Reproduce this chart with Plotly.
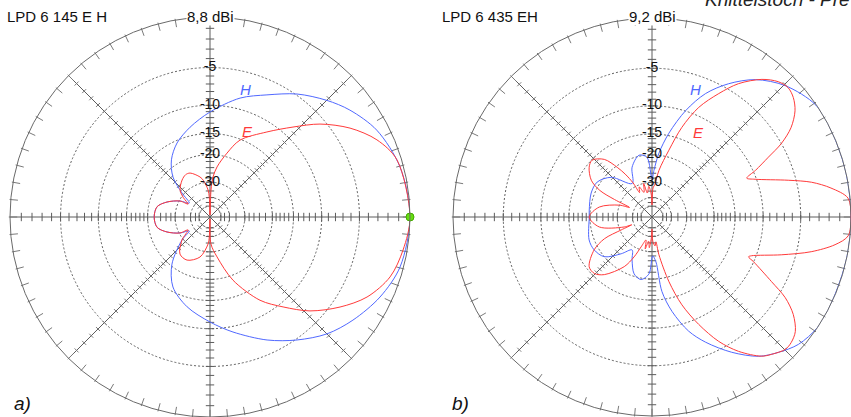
import numpy as np
import plotly.graph_objects as go

W, H = 851, 417

# ---------------- data: angle (deg, ccw from main-lobe axis) and level (dB rel. max)
H_A_DEG = [0, 14.7, 27.5, 37.4, 45, 54.7, 65, 75.8, 90, 102.5, 114, 124, 132.8, 139.4, 146,
           152, 160.8, 169, 180, 191, 199.2, 208, 214, 219.4, 231.1, 242.1, 255.7, 270,
           281.3, 294.9, 305.3, 315, 324.2, 334.8, 345.3, 360]
H_A_DB = [0, -0.3, -1.06, -2.19, -3.3, -4.86, -6.78, -8.39, -11.06, -13.33, -15.51, -18.27,
          -22.31, -29.0, -35.7, -30.4, -25.4, -22.5, -21.9, -22.5, -25.4, -30.4, -35.7, -29.3,
          -20.5, -15.9, -13.2, -11.06, -9.16, -6.67, -4.86, -3.27, -2.17, -1.07, -0.3, 0]

E_A_DEG = [0, 17, 24.8, 32.4, 40.2, 47.3, 56.2, 68.7, 75.1, 82, 85.7, 87.9, 90, 92, 94, 100,
           104, 114.4, 120, 127, 138, 144, 149.4, 152, 160.8, 169, 180, 191, 199.2, 208, 210.6,
           219.4, 231, 242, 256, 266, 268, 270, 272, 280, 290, 301, 309.1, 316.8, 325.3, 333,
           341.6, 350.3, 360]
E_A_DB = [0, -0.39, -1.44, -3.21, -5.64, -8.43, -11.5, -15.2, -19.0, -23.6, -27.6, -34.4, -80,
          -40, -34.4, -29, -27.1, -24.4, -24.2, -25.1, -27.5, -31, -35.4, -30.4, -25.4, -22.5,
          -21.9, -22.5, -25.4, -30.4, -35.4, -29.3, -24.6, -24.2, -27.1, -34.4, -40, -80, -34.4,
          -27.4, -18.7, -12.4, -9.37, -6.47, -4.03, -2.17, -0.9, -0.36, 0]

H_B_DEG = [0, 12.6, 24.5, 34.3, 44.6, 53, 60.1, 66.5, 72.4, 78.6, 83.8, 87.6, 90, 94.8, 101.8,
           111.8, 120.5, 135.7, 147.5, 158.5, 173.7, 180, 200, 209.6, 219.8, 230, 238.8, 245,
           252.5, 260, 267, 271, 275, 277.6, 282, 287.8, 293.2, 300.5, 307.4, 313, 319, 326.4,
           334.4, 348, 360]
H_B_DB = [0, 0, 0, -0.05, -1.06, -2.5, -4.43, -6.7, -9.9, -14.5, -19.4, -24.9, -28.5, -20.6,
          -19.7, -22.5, -28, -21.5, -19.2, -19.1, -19.7, -19.8, -18.7, -18.8, -20, -24.4, -28.2,
          -24.7, -20.7, -19.6, -21.5, -28, -25.5, -16.7, -12.4, -8.7, -6.5, -4.07, -2.17, -1.24,
          -0.43, 0, 0, 0, 0]

E_B_DEG = [0, 5.5, 9.2, 12.3, 15.1, 20.1, 22.3, 24.3, 27.2, 29.6, 32.7, 36.6, 40.2, 43.5, 47,
           51.4, 57, 61.6, 66.9, 71.6, 75.8, 81.5, 85, 88, 90, 92, 96, 101, 104, 108, 113, 117,
           119, 122, 125, 129.6, 136.5, 141.6, 148.8, 153, 155, 157, 160, 169.3, 180, 190.7,
           199.7, 201, 202.8, 204.6, 209.6, 218.4, 224.5, 230.4, 240.8, 245.8, 250, 255.4, 258,
           262, 265, 268, 270, 272, 276, 279, 280.4, 284.7, 288.8, 293.5, 298.2, 302.8, 308.2,
           311, 315.2, 318, 321.4, 325.4, 328.8, 331.6, 336.2, 337.6, 338.7, 343.7, 347.7,
           351.4, 354.5, 360]
E_B_DB = [0, -0.18, -1.6, -3.4, -5.9, -10.2, -11.4, -9.6, -7.2, -5.0, -3.2, -1.9, -1.25, -1.0,
          -1.25, -2.1, -3.85, -6.0, -8.8, -12.8, -18.2, -24.7, -31, -33, -48, -37, -32, -36, -30,
          -35, -31, -34, -28, -23.5, -20.4, -16.8, -15.1, -15.6, -17.7, -21, -27, -36, -30,
          -22.5, -19.8, -22.5, -32.7, -38, -30.6, -22.9, -18.8, -15.6, -15.5, -16.8, -21.5, -26,
          -31.5, -36.5, -31, -36, -32, -38, -48, -36, -33, -35.5, -28.2, -18.7, -13.1, -9.1,
          -5.9, -3.76, -2.0, -1.53, -0.99, -1.03, -1.4, -2.54, -4.2, -6.55, -10.0, -11.07,
          -10.7, -6.7, -3.43, -1.24, -0.17, 0]

RING_DB = [-5, -10, -15, -20, -30, -40, -50]
RING_LABEL_DB = [-5, -10, -15, -20, -30]
TICK_DB = list(range(-1, -21, -1)) + [-22, -24, -26, -28, -30, -35, -40, -45, -50]
SPOKES = [0, 45, 90, 135, 180, 225, 270, 315]

TITLES = ["LPD 6 145 E H", "LPD 6 435 EH"]
MAX_GAIN = ["8,8 dBi", "9,2 dBi"]
PANEL = ["a)", "b)"]

for a, b in ((H_A_DEG, H_A_DB), (E_A_DEG, E_A_DB), (H_B_DEG, H_B_DB), (E_B_DEG, E_B_DB)):
    assert len(a) == len(b), (len(a), len(b))


def arrl(db):
    """ARRL log scale: each 2 dB -> factor 0.89 in radius."""
    return 0.89 ** (-np.asarray(db, float) / 2.0)


BLUE = '#5068ff'
RED = '#ff3a3a'
AX = '#5c5c5c'
AX_LIGHT = '#7a7a7a'
FONT = 'Arial, Liberation Sans, sans-serif'

# panel geometry in pixels: centre x, centre y, radius
GEOM = [(210, 217, 200), (652, 217, 199)]

fig = go.Figure()


def add_panel(sub, hdeg, hdb, edeg, edb, rpx):
    # ticks along the spokes
    for spokes, size, col in (([0, 90, 180, 270], 6, AX), ([45, 135, 225, 315], 4, AX_LIGHT)):
        th, rr, ang = [], [], []
        for s in spokes:
            for d in TICK_DB:
                th.append(s)
                rr.append(float(arrl(d)))
                ang.append(-s)
        fig.add_trace(go.Scatterpolar(subplot=sub, theta=th, r=rr, mode='markers',
                                      marker=dict(symbol='line-ns', size=size, angle=ang,
                                                  color=col, line=dict(color=col, width=1)),
                                      hoverinfo='skip', showlegend=False))
    # ticks on outer circle, every 5 degrees
    th = list(range(0, 360, 5))
    fig.add_trace(go.Scatterpolar(subplot=sub, theta=th, r=[1 - 3.0 / rpx] * len(th),
                                  mode='markers',
                                  marker=dict(symbol='line-ew', size=6, angle=[-t for t in th],
                                              color=AX_LIGHT,
                                              line=dict(color=AX_LIGHT, width=1)),
                                  hoverinfo='skip', showlegend=False))
    # patterns
    fig.add_trace(go.Scatterpolar(subplot=sub, theta=hdeg, r=arrl(hdb), mode='lines',
                                  line=dict(color=BLUE, width=1, shape='spline',
                                            smoothing=0.9),
                                  hoverinfo='skip', showlegend=False))
    fig.add_trace(go.Scatterpolar(subplot=sub, theta=edeg, r=arrl(edb), mode='lines',
                                  line=dict(color=RED, width=1, shape='spline',
                                            smoothing=0.9),
                                  hoverinfo='skip', showlegend=False))
    # ring labels
    fig.add_trace(go.Scatterpolar(subplot=sub, theta=[90] * len(RING_LABEL_DB),
                                  r=arrl(RING_LABEL_DB), mode='text',
                                  text=[str(d) for d in RING_LABEL_DB],
                                  textposition='middle center',
                                  textfont=dict(family=FONT, size=14, color='#111'),
                                  cliponaxis=False, hoverinfo='skip', showlegend=False))


add_panel('polar', H_A_DEG, H_A_DB, E_A_DEG, E_A_DB, GEOM[0][2])
add_panel('polar2', H_B_DEG, H_B_DB, E_B_DEG, E_B_DB, GEOM[1][2])

# marker at the main-lobe maximum of panel a
fig.add_trace(go.Scatterpolar(subplot='polar', theta=[0], r=[1.0], mode='markers',
                              marker=dict(size=8, color='#66dd11',
                                          line=dict(color='#44aa00', width=1)),
                              cliponaxis=False, hoverinfo='skip', showlegend=False))


def polar_layout(cx, cy, r):
    x0, x1 = (cx - r) / W, (cx + r) / W
    y0, y1 = 1 - (cy + r) / H, 1 - (cy - r) / H
    return dict(
        domain=dict(x=[max(0, x0), min(1, x1)], y=[max(0, y0), min(1, y1)]),
        bgcolor='white',
        radialaxis=dict(range=[0, 1], tickvals=[float(v) for v in arrl(RING_DB)],
                        showticklabels=False, ticks='', showline=False,
                        gridcolor='#606060', griddash='2px,2px', gridwidth=1),
        angularaxis=dict(tickvals=SPOKES, showticklabels=False, ticks='', showline=True,
                         linecolor='#6a6a6a', linewidth=1, gridcolor=AX, gridwidth=1,
                         direction='counterclockwise', rotation=0),
    )


annotations = []
for i, (cx, cy, r) in enumerate(GEOM):
    annotations.append(dict(x=cx / W, y=1 - (cy - 200) / H, xref='paper', yref='paper',
                            text=MAX_GAIN[i], showarrow=False, bgcolor='white',
                            font=dict(family=FONT, size=15, color='#111'),
                            xanchor='center', yanchor='middle', borderpad=0))
annotations += [
    dict(x=5 / W, y=1 - 17 / H, text=TITLES[0], xanchor='left'),
    dict(x=440 / W, y=1 - 17 / H, text=TITLES[1], xanchor='left'),
    dict(x=12 / W, y=1 - 403 / H, text='<i>' + PANEL[0] + '</i>', xanchor='left',
         font=dict(family=FONT, size=19, color='#111')),
    dict(x=450 / W, y=1 - 403 / H, text='<i>' + PANEL[1] + '</i>', xanchor='left',
         font=dict(family=FONT, size=19, color='#111')),
    dict(x=245 / W, y=1 - 89 / H, text='<i>H</i>', font=dict(family=FONT, size=15, color=BLUE)),
    dict(x=247 / W, y=1 - 131 / H, text='<i>E</i>', font=dict(family=FONT, size=15, color=RED)),
    dict(x=695 / W, y=1 - 89 / H, text='<i>H</i>', font=dict(family=FONT, size=15, color=BLUE)),
    dict(x=698 / W, y=1 - 132 / H, text='<i>E</i>', font=dict(family=FONT, size=15, color=RED)),
    dict(x=703 / W, y=1 + 1 / H, text='<i>Knittelstoch - Pre</i>', xanchor='left',
         yanchor='middle', font=dict(family=FONT, size=19, color='#222')),
]
for a in annotations:
    a.setdefault('xref', 'paper')
    a.setdefault('yref', 'paper')
    a.setdefault('showarrow', False)
    a.setdefault('yanchor', 'middle')
    a.setdefault('xanchor', 'center')
    a.setdefault('font', dict(family=FONT, size=15, color='#111'))

fig.update_layout(
    width=W, height=H, margin=dict(l=0, r=0, t=0, b=0),
    paper_bgcolor='white', plot_bgcolor='white', showlegend=False,
    polar=polar_layout(*GEOM[0]), polar2=polar_layout(*GEOM[1]),
    annotations=annotations,
)

fig.write_html("out.html", config=dict(displayModeBar=False, staticPlot=True),
               post_script="document.body.style.margin='0px';"
                           "document.body.style.overflow='hidden';")
